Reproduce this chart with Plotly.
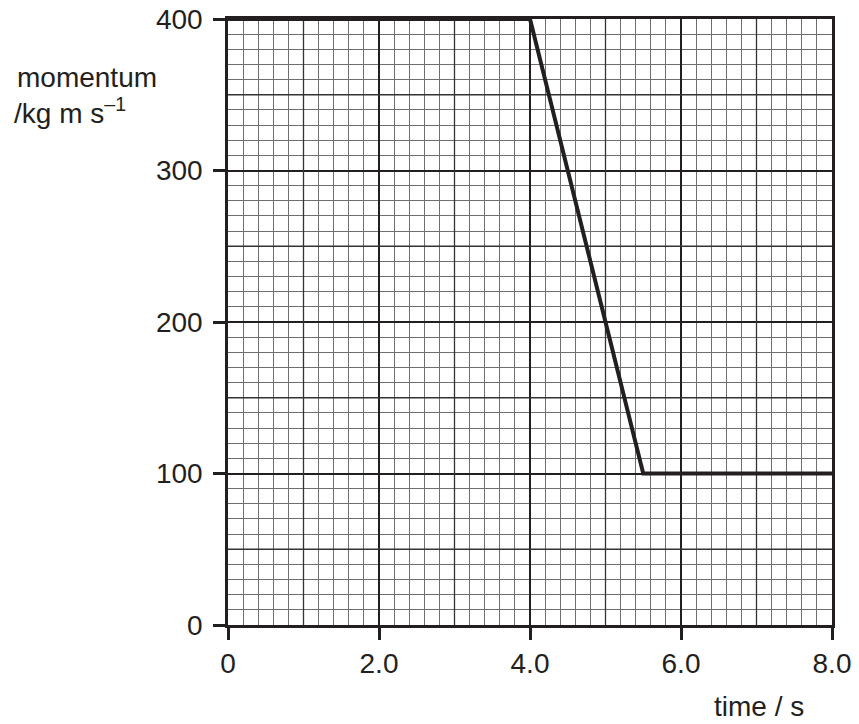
import plotly.graph_objects as go

# Data
time_s = [0.0, 4.0, 5.5, 8.0]
momentum = [400, 400, 100, 100]

x_ticks = [0, 2, 4, 6, 8]
x_tick_labels = ["0", "2.0", "4.0", "6.0", "8.0"]
y_ticks = [0, 100, 200, 300, 400]
y_tick_labels = ["0", "100", "200", "300", "400"]
x_mid_lines = [1, 3, 5, 7]
y_mid_lines = [50, 150, 250, 350]

INK = "#231f20"
FONT = "Liberation Sans, Arial, sans-serif"

fig = go.Figure()
fig.add_trace(go.Scatter(x=time_s, y=momentum, mode="lines",
                         line=dict(color=INK, width=4), hoverinfo="skip",
                         showlegend=False, cliponaxis=False))

shapes = []
for xv in x_mid_lines:
    shapes.append(dict(type="line", xref="x", yref="y", x0=xv, x1=xv, y0=0, y1=400,
                       line=dict(color="#333333", width=1.3), layer="between"))
for yv in y_mid_lines:
    shapes.append(dict(type="line", xref="x", yref="y", x0=0, x1=8, y0=yv, y1=yv,
                       line=dict(color="#333333", width=1.3), layer="between"))

fig.update_layout(
    width=851, height=716,
    margin=dict(l=220, r=27, t=11, b=99, autoexpand=False),
    paper_bgcolor="white", plot_bgcolor="white",
    font=dict(family=FONT, size=28, color=INK),
    shapes=shapes,
    xaxis=dict(range=[0, 8], tickvals=x_ticks, ticktext=x_tick_labels,
               showgrid=True, gridcolor=INK, gridwidth=1.8,
               minor=dict(dtick=0.2, showgrid=True, gridcolor="#6f6f6f", gridwidth=1.1),
               ticks="outside", ticklen=12, tickwidth=2.5, tickcolor=INK,
               showline=True, linecolor=INK, linewidth=2.5, mirror=True,
               zeroline=False, ticklabelstandoff=0, automargin=False,
               ticklabeloverflow="allow"),
    yaxis=dict(range=[0, 400], tickvals=y_ticks, ticktext=y_tick_labels,
               showgrid=True, gridcolor=INK, gridwidth=1.8,
               minor=dict(dtick=10, showgrid=True, gridcolor="#6f6f6f", gridwidth=1.1),
               ticks="outside", ticklen=12, tickwidth=2.5, tickcolor=INK,
               showline=True, linecolor=INK, linewidth=2.5, mirror=True,
               zeroline=False, ticklabelstandoff=5, automargin=False,
               ticklabeloverflow="allow"),
    annotations=[
        dict(text="momentum", xref="paper", yref="paper", x=-0.2334, y=0.904,
             xanchor="center", yanchor="middle", showarrow=False,
             font=dict(size=28, color=INK)),
        dict(text="/kg m s<sup>–1</sup>", xref="paper", yref="paper", x=-0.3576, y=0.848,
             xanchor="left", yanchor="middle", showarrow=False,
             font=dict(size=28, color=INK)),
        dict(text="time / s", xref="paper", yref="paper", x=0.879, y=-0.1337,
             xanchor="center", yanchor="middle", showarrow=False,
             font=dict(size=28, color=INK)),
    ],
)

fig.write_html("out.html")
